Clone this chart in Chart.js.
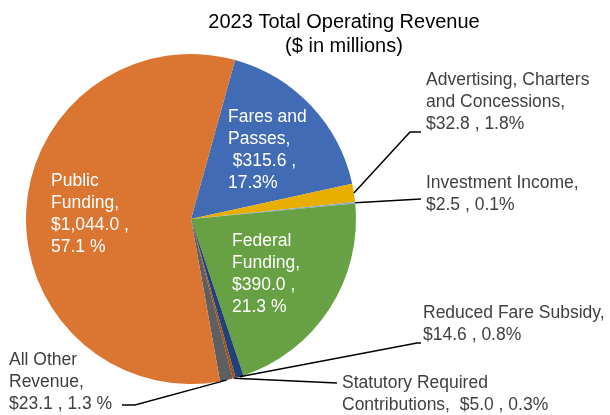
<!DOCTYPE html>
<html>
<head>
<meta charset="utf-8">
<script src="https://cdn.jsdelivr.net/npm/chart.js@4.4.1/dist/chart.umd.min.js"></script>
<style>
  html, body { margin: 0; padding: 0; background: #fff; }
  #wrap { position: relative; width: 610px; height: 415px; }
</style>
</head>
<body>
<div id="wrap"><canvas id="chart" width="610" height="415"></canvas></div>
<script>
// 2023 Total Operating Revenue ($ in millions)

const categories = [
  'Fares and Passes',
  'Advertising, Charters and Concessions',
  'Investment Income',
  'Federal Funding',
  'Reduced Fare Subsidy',
  'Statutory Required Contributions',
  'All Other Revenue',
  'Public Funding'
];
const revenue = [315.6, 32.8, 2.5, 390.0, 14.6, 5.0, 23.1, 1044.0];
const sliceColors = ['#416cb5', '#e8ae00', '#7fa6cf', '#68a044', '#22407a', '#a4500f', '#5f5f5f', '#db7532'];

const titleLines = ['2023 Total Operating Revenue', '($ in millions)'];

// texte des étiquettes (une entrée par part)
const labelLines = [
  ['Fares and', 'Passes,', ' $315.6 ,', '17.3%'],
  ['Advertising, Charters', 'and Concessions,', '$32.8 , 1.8%'],
  ['Investment Income,', '$2.5 , 0.1%'],
  ['Federal', 'Funding,', '$390.0 ,', '21.3 %'],
  ['Reduced Fare Subsidy,', '$14.6 , 0.8%'],
  ['Statutory Required', 'Contributions,  $5.0 , 0.3%'],
  ['All Other', 'Revenue,', '$23.1 , 1.3 %'],
  ['Public', 'Funding,', '$1,044.0 ,', '57.1 %']
];

// placement des étiquettes : x, première ligne de base, coude du trait
const labelPos = [
  { x: 228, y: 122, inside: true },
  { x: 426, y: 85, leader: [[410, 132], [421, 132]] },
  { x: 426, y: 188, leader: [[421, 199]] },
  { x: 232, y: 246, inside: true },
  { x: 423, y: 318, leader: [[417, 343], [421, 343]] },
  { x: 342, y: 388, leader: [[337, 383]] },
  { x: 9, y: 365, leader: [[135, 405], [122, 405]] },
  { x: 51, y: 186, inside: true }
];

const LINE_H = 22;
const FONT = '17.5px "Liberation Sans", Arial, sans-serif';

const labelPlugin = {
  id: 'sliceLabels',
  afterDraw(chart) {
    const ctx = chart.ctx;
    const meta = chart.getDatasetMeta(0);
    ctx.save();

    // titre
    ctx.fillStyle = '#000';
    ctx.font = '20px "Liberation Sans", Arial, sans-serif';
    ctx.textAlign = 'center';
    ctx.textBaseline = 'alphabetic';
    ctx.fillText(titleLines[0], 344, 28);
    ctx.fillText(titleLines[1], 344, 52);

    ctx.textAlign = 'left';
    ctx.font = FONT;
    meta.data.forEach((arc, i) => {
      const p = labelPos[i];
      const { x, y, startAngle, endAngle, outerRadius } = arc.getProps(['x', 'y', 'startAngle', 'endAngle', 'outerRadius'], true);
      if (p.leader) {
        const mid = (startAngle + endAngle) / 2;
        ctx.beginPath();
        ctx.moveTo(x + Math.cos(mid) * outerRadius, y + Math.sin(mid) * outerRadius);
        p.leader.forEach(pt => ctx.lineTo(pt[0], pt[1]));
        ctx.strokeStyle = '#000';
        ctx.lineWidth = 1.5;
        ctx.stroke();
      }
      ctx.fillStyle = p.inside ? '#ffffff' : '#404040';
      labelLines[i].forEach((t, k) => ctx.fillText(t, p.x, p.y + k * LINE_H));
    });
    ctx.restore();
  }
};

new Chart(document.getElementById('chart'), {
  type: 'pie',
  data: {
    labels: categories,
    datasets: [{
      data: revenue,
      backgroundColor: sliceColors,
      borderWidth: 0,
      hoverOffset: 0,
      offset: 0
    }]
  },
  options: {
    responsive: false,
    animation: false,
    rotation: 15.5,
    layout: { padding: { left: 26, right: 254, top: 54, bottom: 31 } },
    plugins: {
      legend: { display: false },
      tooltip: { enabled: false },
      title: { display: false }
    }
  },
  plugins: [labelPlugin]
});
</script>
</body>
</html>
